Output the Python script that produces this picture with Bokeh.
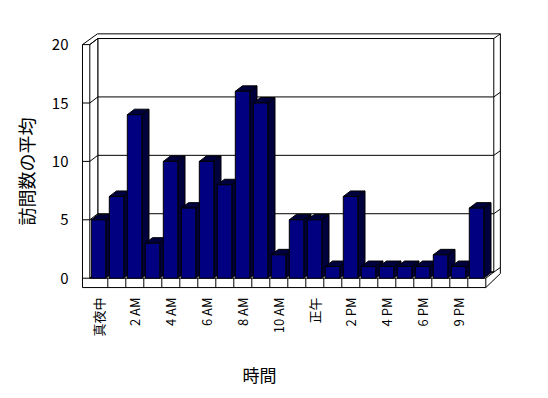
import math
from bokeh.plotting import figure
from bokeh.models import Range1d, FixedTicker, Title
from bokeh.embed import file_html
from bokeh.resources import INLINE

# ---- data ----
hours = ["真夜中", "1 AM", "2 AM", "3 AM", "4 AM", "5 AM", "6 AM", "7 AM", "8 AM",
         "9 AM", "10 AM", "11 AM", "正午", "1 PM", "2 PM", "3 PM", "4 PM", "5 PM",
         "6 PM", "8 PM", "9 PM", "10 PM"]
visits = [5, 7, 14, 3, 10, 6, 10, 8, 16, 15, 2, 5, 5, 1, 7, 1, 1, 1, 1, 2, 1, 6]
y_ticks = [0, 5, 10, 15, 20]
shown_ticks = [0, 2, 4, 6, 8, 10, 12, 14, 16, 18, 20]
x_title = "時間"
y_title = "訪問数の平均"

FONT = "Noto Sans CJK JP"
FRONT = "#000080"
SHADE = "#00003c"

# ---- geometry (in data units) ----
N = len(visits)
YMAX = y_ticks[-1]
BAR_L, BAR_R = -0.417, 0.389     # bar front face relative to category centre
BDX, BDY = 0.40, 0.47            # bar depth projection
WDX, WDY = 0.444, 0.52           # wall depth projection
WALL = 0.406                     # wall slab thickness (x)
FLOOR = 0.80                     # floor slab thickness (y)
TOPT = 0.40                      # top slab thickness
x_in = -0.5
x_out = x_in - WALL
x_right = N - 0.5
x_rout = x_right + WDX + WALL * 0.9

p = figure(output_backend="svg", toolbar_location=None,
           x_range=Range1d(-1.017, 22.539), y_range=Range1d(-0.967, 21.036),
           frame_width=424, frame_height=257,
           min_border_left=80, min_border_top=32, min_border_right=28,
           min_border_bottom=108)
p.outline_line_color = None
p.xgrid.visible = False
p.ygrid.visible = False
p.background_fill_color = "white"
p.border_fill_color = "white"

# outer silhouette of the box
p.patch([x_out, x_in + WDX - WALL * 0.05, x_rout, x_rout, x_right, x_out],
        [YMAX, YMAX + WDY + TOPT, YMAX + WDY + TOPT, WDY - 0.12, -FLOOR, -FLOOR],
        fill_color="white", line_color="black", line_width=1)
# back wall
p.patch([x_in + WDX, x_right + WDX, x_right + WDX, x_in + WDX],
        [WDY, WDY, YMAX + WDY, YMAX + WDY],
        fill_color="white", line_color="black", line_width=1)
# left wall inner face
p.patch([x_in, x_in, x_in + WDX, x_in + WDX],
        [0, YMAX, YMAX + WDY, WDY],
        fill_color="white", line_color="black", line_width=1)
# floor top
p.patch([x_in, x_right, x_right + WDX, x_in + WDX],
        [0, 0, WDY, WDY],
        fill_color="white", line_color="black", line_width=1)
# floor front face right edge and category dividers
div_x = [[i + 0.5, i + 0.5] for i in range(N - 1)] + [[x_right, x_right]]
div_y = [[-FLOOR, 0] for _ in range(N)]
p.multi_line(div_x, div_y, line_color="black", line_width=1)
# gridlines across left wall, back wall and right edge
gx, gy = [], []
for t in y_ticks:
    gx.append([x_out, x_in, x_in + WDX, x_right + WDX, x_rout])
    gy.append([t, t, t + WDY, t + WDY, t + WDY + TOPT])
p.multi_line(gx, gy, line_color="black", line_width=1)

# bars
sides_x, sides_y, tops_x, tops_y = [], [], [], []
lefts, rights = [], []
for i, v in enumerate(visits):
    xl, xr = i + BAR_L, i + BAR_R
    lefts.append(xl)
    rights.append(xr)
    sides_x.append([xr, xr + BDX, xr + BDX, xr])
    sides_y.append([0, BDY, v + BDY, v])
    tops_x.append([xl, xl + BDX, xr + BDX, xr])
    tops_y.append([v, v + BDY, v + BDY, v])
p.patches(sides_x, sides_y, fill_color=SHADE, line_color="black", line_width=1)
p.patches(tops_x, tops_y, fill_color=SHADE, line_color="black", line_width=1)
p.quad(left=lefts, right=rights, bottom=[0] * N, top=visits,
       fill_color=FRONT, line_color="black", line_width=1)

# axes
for ax in (p.xaxis[0], p.yaxis[0]):
    ax.axis_line_color = None
    ax.major_tick_line_color = None
    ax.minor_tick_line_color = None
    ax.major_tick_out = 0
    ax.major_tick_in = 0
    ax.minor_tick_out = 0
    ax.minor_tick_in = 0
    ax.major_label_text_font = FONT
    ax.major_label_text_color = "black"

p.yaxis.ticker = FixedTicker(ticks=y_ticks)
p.yaxis.major_label_standoff = 12
p.yaxis.major_label_text_font_size = "15px"

p.xaxis.ticker = FixedTicker(ticks=shown_ticks)
p.xaxis.major_label_overrides = {i: hours[i] for i in shown_ticks}
p.xaxis.major_label_orientation = math.pi / 2
p.xaxis.major_label_standoff = 8
p.xaxis.major_label_text_font_size = "13px"

# axis titles (placed as side titles so they can sit off-centre like the original)
p.add_layout(Title(text=y_title, align="left", offset=64, vertical_align="middle",
                   standoff=18, text_font=FONT, text_font_size="18px",
                   text_font_style="normal", text_color="black"), "left")
p.add_layout(Title(text=x_title, align="left", offset=162, vertical_align="bottom",
                   standoff=40, text_font=FONT, text_font_size="17px",
                   text_font_style="normal", text_color="black"), "below")

open("out.html", "w").write(file_html(p, INLINE))
